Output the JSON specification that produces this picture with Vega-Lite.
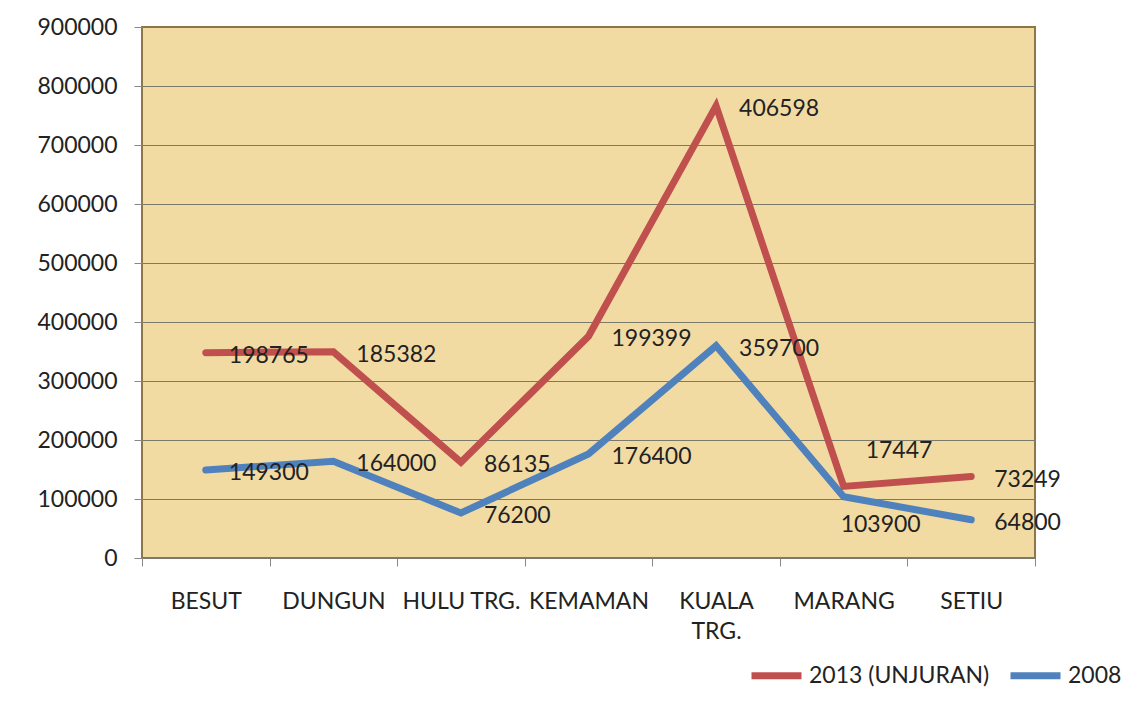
{
  "$schema": "https://vega.github.io/schema/vega-lite/v6.json",
  "width": 893,
  "height": 531,
  "autosize": {"type": "none"},
  "padding": {"left": 142, "top": 27, "right": 111, "bottom": 155},
  "background": "white",
  "config": {
    "font": "Lato",
    "view": {"fill": "#f2dba3", "stroke": "#8f7646", "strokeWidth": 2},
    "axis": {"labelFont": "Lato", "labelFontSize": 23, "labelColor": "#222222", "domainColor": "#888888", "tickColor": "#888888", "gridColor": "#7a7a6a", "gridWidth": 1}
  },
  "data": {
    "values": [
      {"district": "BESUT", "series": "2008", "value": 149300},
      {"district": "DUNGUN", "series": "2008", "value": 164000},
      {"district": "HULU TRG.", "series": "2008", "value": 76200},
      {"district": "KEMAMAN", "series": "2008", "value": 176400},
      {"district": "KUALA TRG.", "series": "2008", "value": 359700},
      {"district": "MARANG", "series": "2008", "value": 103900},
      {"district": "SETIU", "series": "2008", "value": 64800},
      {"district": "BESUT", "series": "2013 (UNJURAN)", "value": 198765},
      {"district": "DUNGUN", "series": "2013 (UNJURAN)", "value": 185382},
      {"district": "HULU TRG.", "series": "2013 (UNJURAN)", "value": 86135},
      {"district": "KEMAMAN", "series": "2013 (UNJURAN)", "value": 199399},
      {"district": "KUALA TRG.", "series": "2013 (UNJURAN)", "value": 406598},
      {"district": "MARANG", "series": "2013 (UNJURAN)", "value": 17447},
      {"district": "SETIU", "series": "2013 (UNJURAN)", "value": 73249}
    ]
  },
  "transform": [
    {"stack": "value", "groupby": ["district"], "sort": [{"field": "series", "order": "ascending"}], "as": ["y0", "y1"]}
  ],
  "encoding": {
    "x": {
      "field": "district", "type": "nominal", "sort": null, "title": null,
      "scale": {"paddingInner": 0, "paddingOuter": 0},
      "axis": {"labelAngle": 0, "tickBand": "extent", "tickSize": 8, "labelPadding": 24, "domain": false,
        "labelExpr": "datum.value == 'KUALA TRG.' ? ['KUALA', 'TRG.'] : datum.value", "labelLineHeight": 30}
    },
    "y": {
      "field": "y1", "type": "quantitative", "title": null,
      "scale": {"domain": [0, 900000], "nice": false},
      "axis": {"values": [0,100000,200000,300000,400000,500000,600000,700000,800000,900000], "tickSize": 8, "labelPadding": 17, "domain": false, "format": "d"}
    }
  },
  "layer": [
    {
      "mark": {"type": "line", "strokeWidth": 7, "strokeCap": "round"},
      "encoding": {
        "color": {
          "field": "series", "type": "nominal",
          "scale": {"domain": ["2013 (UNJURAN)", "2008"], "range": ["#c0504d", "#4f81bd"]},
          "legend": {"title": null, "orient": "none", "direction": "horizontal", "legendX": 606, "legendY": 620,
            "symbolType": "stroke", "symbolStrokeWidth": 7, "symbolSize": 2500, "labelFont": "Lato", "labelFontSize": 23,
            "labelColor": "#222222", "labelOffset": 4, "columnPadding": 6, "symbolOffset": 0, "labelLimit": 400}
        }
      }
    },
    {
      "transform": [{"filter": "!(datum.district == 'MARANG')"}],
      "mark": {"type": "text", "align": "left", "baseline": "middle", "dx": 23, "dy": 3, "fontSize": 23, "font": "Lato", "color": "#222222"},
      "encoding": {"text": {"field": "value", "type": "quantitative", "format": "d"}}
    },
    {
      "transform": [{"filter": "datum.district == 'MARANG' && datum.series == '2013 (UNJURAN)'"}],
      "mark": {"type": "text", "align": "left", "baseline": "middle", "dx": 22, "dy": -35, "fontSize": 23, "font": "Lato", "color": "#222222"},
      "encoding": {"text": {"field": "value", "type": "quantitative", "format": "d"}}
    },
    {
      "transform": [{"filter": "datum.district == 'MARANG' && datum.series == '2008'"}],
      "mark": {"type": "text", "align": "left", "baseline": "middle", "dx": -3, "dy": 28, "fontSize": 23, "font": "Lato", "color": "#222222"},
      "encoding": {"text": {"field": "value", "type": "quantitative", "format": "d"}}
    }
  ]
}
